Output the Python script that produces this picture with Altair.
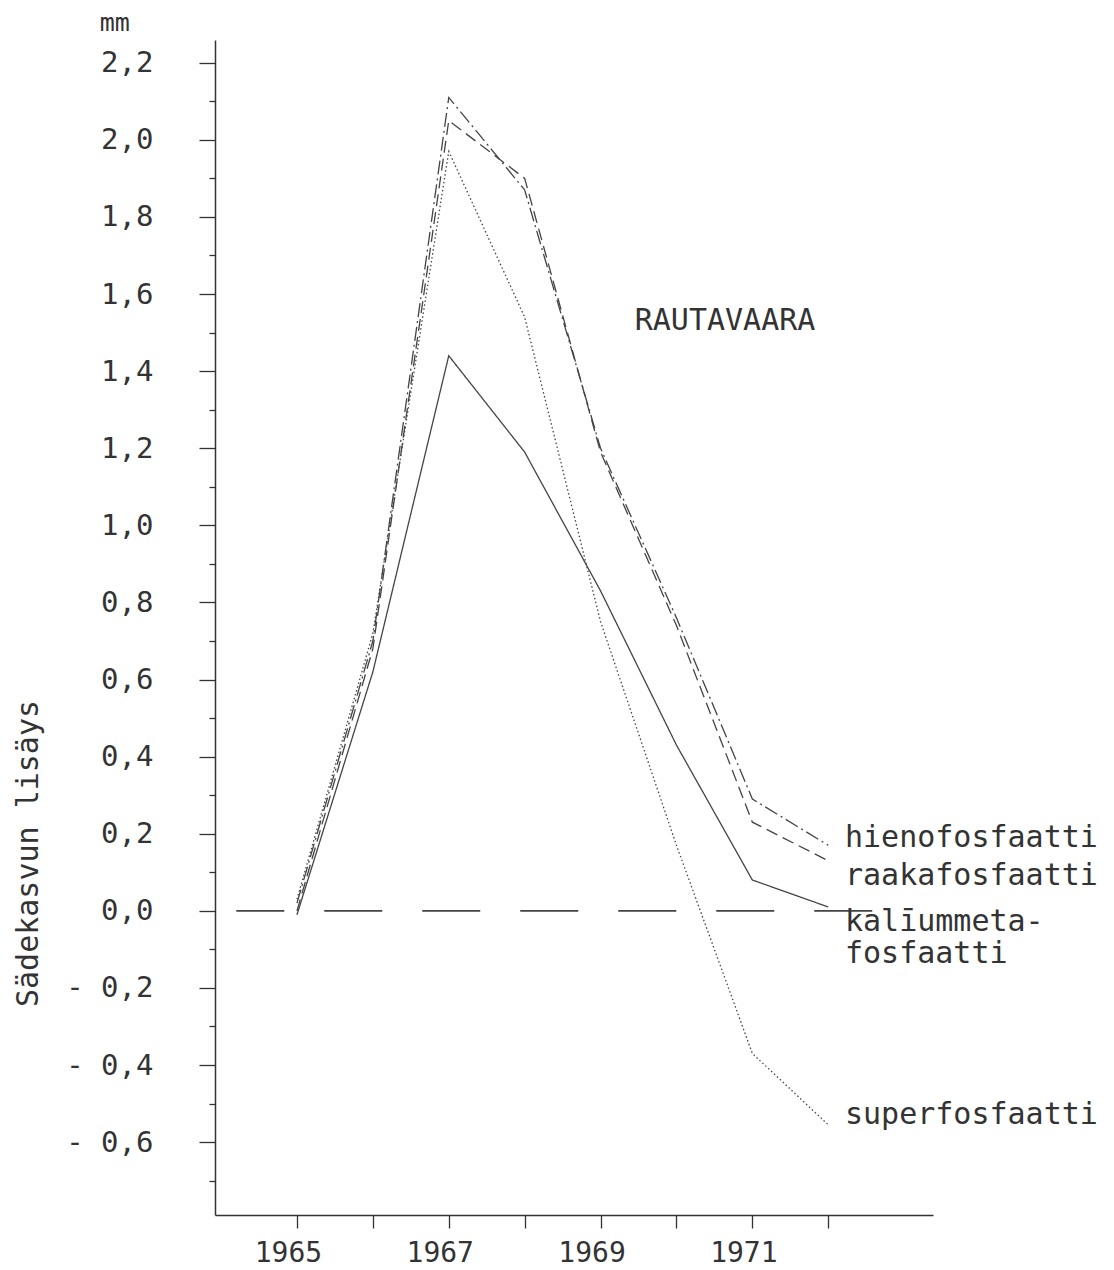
import altair as alt
import pandas as pd

# ---- data ----
years = [1965, 1966, 1967, 1968, 1969, 1970, 1971, 1972]
hienofosfaatti = [0.02, 0.70, 2.11, 1.87, 1.20, 0.76, 0.29, 0.17]
raakafosfaatti = [0.00, 0.68, 2.05, 1.90, 1.19, 0.74, 0.23, 0.13]
kaliummetafosfaatti = [-0.01, 0.62, 1.44, 1.19, 0.83, 0.43, 0.08, 0.01]
superfosfaatti = [0.03, 0.72, 1.97, 1.54, 0.75, 0.17, -0.37, -0.555]

series_names = ["hienofosfaatti", "raakafosfaatti", "kalīummetafosfaatti", "superfosfaatti"]
series_values = [hienofosfaatti, raakafosfaatti, kaliummetafosfaatti, superfosfaatti]
series_dash = [[14, 4, 2, 4], [12, 6], [1, 0], [1.5, 2.5]]

baseline_start, baseline_end, baseline_value = 1964.2, 1972.85, 0.0

x_domain = [1963.92, 1973.38]
y_domain = [-0.789, 2.259]
x_tick_values = years
y_tick_values = [round(-0.7 + 0.1 * i, 1) for i in range(30)]

labels_text = ["hienofosfaatti", "raakafosfaatti", "kalīummeta-", "fosfaatti", "superfosfaatti", "RAUTAVAARA", "mm"]
labels_x = [1972.22, 1972.22, 1972.22, 1972.22, 1972.22, 1969.45, 1962.40]
labels_y = [0.165, 0.066, -0.052, -0.136, -0.553, 1.507, 2.283]
labels_size = [30, 30, 30, 30, 30, 30, 25]

rows = []
for name, vals in zip(series_names, series_values):
    for yr, v in zip(years, vals):
        rows.append({"year": yr, "value": v, "series": name})
df = pd.DataFrame(rows)

ink = "#333333"
line_ink = "#444444"
font = "DejaVu Sans Mono"

xs = alt.Scale(domain=x_domain, nice=False, zero=False)
ys = alt.Scale(domain=y_domain, nice=False, zero=False)

x_axis = alt.Axis(
    values=x_tick_values,
    labelExpr="datum.value % 2 == 1 ? format(datum.value, 'd') : ''",
    tickSize=13, tickWidth=1.3, tickColor=ink,
    domainColor=ink, domainWidth=1.5,
    labelFont=font, labelFontSize=28, labelColor=ink,
    labelBaseline="alphabetic",
    labelPadding=33, labelOffset=-9, labelFlush=False, labelOverlap=False,
    grid=False, title=None,
)
y_axis = alt.Axis(
    values=y_tick_values,
    labelExpr="round(datum.value*10) % 2 != 0 ? '' : (datum.value < -0.001 ? '- ' + replace(format(abs(datum.value), '.1f'), '.', ',') : replace(format(abs(datum.value), '.1f'), '.', ','))",
    tickSize={"condition": {"test": "round(datum.value*10) % 2 == 0", "value": 16}, "value": 6},
    tickWidth=1.3, tickColor=ink,
    domainColor=ink, domainWidth=1.5,
    labelFont=font, labelFontSize=29, labelColor=ink,
    labelPadding=46, labelFlush=False, labelOverlap=False,
    grid=False,
    title="Sädekasvun lisäys", titleFont=font, titleFontSize=30, titleFontWeight="normal",
    titleColor=ink, titleAngle=270, titleX=-187, titleY=813,
    titleAlign="center", titleBaseline="middle",
)

lines = alt.Chart(df).mark_line(strokeWidth=1.3, color=line_ink).encode(
    x=alt.X("year:Q", scale=xs, axis=x_axis),
    y=alt.Y("value:Q", scale=ys, axis=y_axis),
    strokeDash=alt.StrokeDash("series:N", scale=alt.Scale(domain=series_names, range=series_dash), legend=None),
    detail="series:N",
)

base_df = pd.DataFrame({"x": [baseline_start], "x2": [baseline_end], "y": [baseline_value]})
baseline = alt.Chart(base_df).mark_rule(strokeWidth=1.6, color=line_ink, strokeDash=[58, 40], strokeDashOffset=10).encode(
    x=alt.X("x:Q", scale=xs), x2="x2:Q", y=alt.Y("y:Q", scale=ys)
)

lab_df = pd.DataFrame({"t": labels_text, "x": labels_x, "y": labels_y, "s": labels_size})
texts = alt.Chart(lab_df).mark_text(align="left", baseline="alphabetic", font=font, color=ink).encode(
    x=alt.X("x:Q", scale=xs), y=alt.Y("y:Q", scale=ys), text="t:N",
    size=alt.Size("s:Q", scale=None, legend=None),
)

chart = alt.layer(lines, baseline, texts).properties(
    width=718, height=1175,
    autosize=alt.AutoSizeParams(type="none"),
    padding={"left": 207, "top": 32, "right": 173, "bottom": 54},
    background="white",
).configure_view(stroke=None)

chart.save("out.html", embed_options={"renderer": "svg", "actions": False})
